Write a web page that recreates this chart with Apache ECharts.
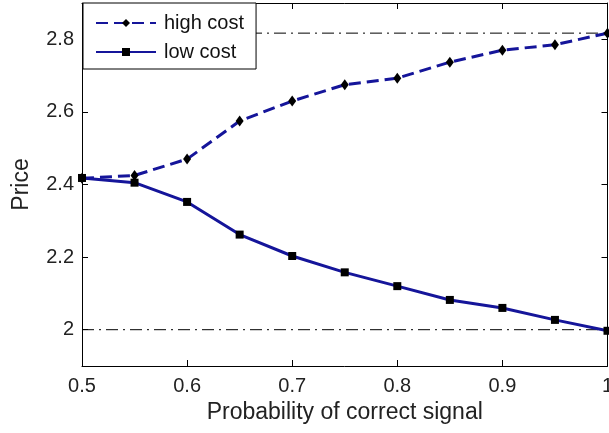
<!DOCTYPE html>
<html>
<head>
<meta charset="utf-8">
<script src="https://cdn.jsdelivr.net/npm/echarts@6/dist/echarts.min.js"></script>
<style>
  html, body { margin: 0; padding: 0; background: #fff; }
  #chart { width: 609px; height: 433px; }
</style>
</head>
<body>
<div id="chart"></div>
<script>
// values
var probs = [0.5, 0.55, 0.6, 0.65, 0.7, 0.75, 0.8, 0.85, 0.9, 0.95, 1.0];
var highCost = [2.417, 2.425, 2.47, 2.575, 2.63, 2.675, 2.693, 2.737, 2.77, 2.785, 2.817];
var lowCost = [2.418, 2.405, 2.352, 2.262, 2.203, 2.158, 2.12, 2.082, 2.06, 2.027, 1.997];
var refLevels = [2.0, 2.817];
var xTicks = [0.5, 0.6, 0.7, 0.8, 0.9, 1.0];
var yTicks = [2, 2.2, 2.4, 2.6, 2.8];

var lineBlue = '#15159a';
var font = 'Liberation Sans, Arial, sans-serif';

function pairs(xs, ys) {
    return xs.map(function (x, i) { return [x, ys[i]]; });
}

function refSeries(level) {
    return {
        type: 'line',
        data: [[0.5, level], [1.0, level]],
        symbol: 'none',
        silent: true,
        z: 1,
        lineStyle: { color: '#000', width: 1, type: [12, 5, 2, 5] }
    };
}

var myChart = echarts.init(document.getElementById('chart'));

var baseX = {
    type: 'value',
    min: 0.5,
    max: 1.0,
    splitLine: { show: false },
    axisLine: { onZero: false, lineStyle: { color: '#000', width: 1 } },
    axisTick: { inside: true, length: 6, customValues: xTicks, lineStyle: { color: '#000' } }
};
var baseY = {
    type: 'value',
    min: 1.9,
    max: 2.9,
    splitLine: { show: false },
    axisLine: { onZero: false, lineStyle: { color: '#000', width: 1 } },
    axisTick: { inside: true, length: 6, customValues: yTicks, lineStyle: { color: '#000' } }
};

var option = {
    backgroundColor: '#fff',
    animation: false,
    grid: { left: 82, right: 1.5, top: 3, bottom: 67, outerBoundsMode: 'none', containLabel: false },
    legend: {
        data: ['high cost', 'low cost'],
        orient: 'vertical',
        left: 83,
        top: 3,
        padding: [10, 12, 7, 12],
        itemGap: 9,
        itemWidth: 60,
        itemHeight: 10,
        backgroundColor: '#fff',
        borderColor: '#000',
        borderWidth: 1,
        borderRadius: 0,
        textStyle: { fontFamily: font, fontSize: 20, color: '#111', padding: [0, 0, 0, 3] }
    },
    xAxis: [
        Object.assign({}, baseX, {
            position: 'bottom',
            name: 'Probability of correct signal',
            nameLocation: 'middle',
            nameGap: 35,
            nameTextStyle: { fontFamily: font, fontSize: 23, color: '#222' },
            axisLabel: { customValues: xTicks, margin: 10, fontFamily: font, fontSize: 20, color: '#222' }
        }),
        Object.assign({}, baseX, {
            position: 'top',
            axisLabel: { show: false }
        })
    ],
    yAxis: [
        Object.assign({}, baseY, {
            position: 'left',
            name: 'Price',
            nameLocation: 'middle',
            nameGap: 49,
            nameTextStyle: { fontFamily: font, fontSize: 23, color: '#222' },
            axisLabel: { customValues: yTicks, margin: 8, fontFamily: font, fontSize: 20, color: '#222' }
        }),
        Object.assign({}, baseY, {
            position: 'right',
            axisLabel: { show: false }
        })
    ],
    series: [
        refSeries(refLevels[0]),
        refSeries(refLevels[1]),
        {
            name: 'high cost',
            type: 'line',
            data: pairs(probs, highCost),
            symbol: 'diamond',
            symbolSize: [8, 11],
            z: 3,
            itemStyle: { color: '#000' },
            lineStyle: { color: lineBlue, width: 3, type: [12, 6] }
        },
        {
            name: 'low cost',
            type: 'line',
            data: pairs(probs, lowCost),
            symbol: 'rect',
            symbolSize: 8,
            z: 3,
            itemStyle: { color: '#000' },
            lineStyle: { color: lineBlue, width: 3 }
        }
    ]
};

myChart.setOption(option);
</script>
</body>
</html>
